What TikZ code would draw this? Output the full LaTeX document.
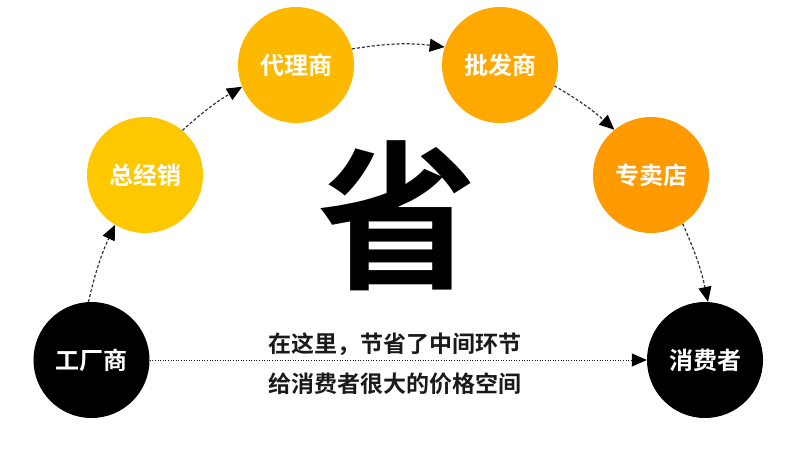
\documentclass[tikz,border=0pt]{standalone}
\usepackage{fontspec}
\setmainfont{Noto Sans CJK SC}[BoldFont={Noto Sans CJK SC Bold}]
\usetikzlibrary{arrows.meta}
\definecolor{cA}{HTML}{FDC800}
\definecolor{cB}{HTML}{FCB900}
\definecolor{cC}{HTML}{FFA900}
\definecolor{cD}{HTML}{FF9A00}
\definecolor{ink}{HTML}{1A1A1A}
\definecolor{dashc}{HTML}{333333}
\tikzset{
  tipstyle/.style={-{Triangle[length=15pt,width=13pt,color=black]}},
  stage/.style={circle, minimum size=116pt, inner sep=0pt, text=white,
    font=\fontsize{24}{24}\selectfont\bfseries},
  flow/.style={draw=dashc, line width=1.2pt, dash pattern=on 3pt off 2pt, tipstyle},
  direct/.style={draw=ink, line width=0.7pt, dash pattern=on 1pt off 1.6pt, tipstyle},
  msg/.style={anchor=base, inner sep=0pt, text=ink,
    font=\fontsize{23}{23}\selectfont\bfseries}
}
\begin{document}
\begin{tikzpicture}[x=1pt,y=1pt]
\useasboundingbox (0,0) rectangle (790,-466);
\node[stage, fill=black] (f) at (91.5,-360) {工厂商};
\node[stage, fill=cA] (z) at (145,-175) {总经销};
\node[stage, fill=cB] (d) at (296,-65) {代理商};
\node[stage, fill=cC] (p) at (500,-65) {批发商};
\node[stage, fill=cD] (s) at (651,-175) {专卖店};
\node[stage, fill=black] (c) at (705,-360) {消费者};
\node[anchor=base, inner sep=0pt, font=\fontsize{160}{160}\selectfont\bfseries] (big) at (397,-276) {省};
\node[msg] (m1) at (395,-352) {在这里，节省了中间环节};
\node[msg] (m2) at (395,-392) {给消费者很大的价格空间};
\draw[flow] (f.93.5) to[bend left=6] (z.239);
\draw[flow] (z.50.6) to[bend left=6] (d.202);
\draw[flow] (d.16.6) to[bend left=8] (p.162);
\draw[flow] (p.-21.8) to[bend left=6] (s.129);
\draw[flow] (s.-57) to[bend left=6] (c.87);
\draw[direct] (f.east) -- (c.west);
\end{tikzpicture}
\end{document}
